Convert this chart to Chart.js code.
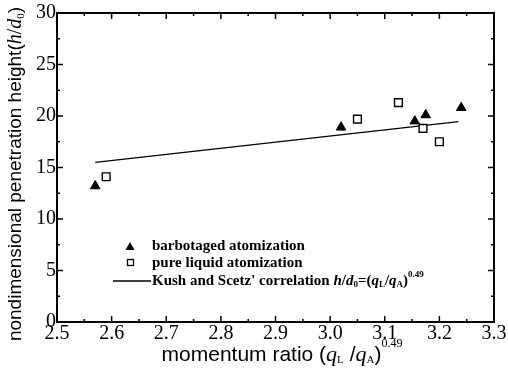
<!DOCTYPE html>
<html>
<head>
<meta charset="utf-8">
<script src="https://cdn.jsdelivr.net/npm/chart.js@4.4.1/dist/chart.umd.min.js"></script>
<style>
html, body { margin: 0; padding: 0; background: #fff; }
</style>
</head>
<body>
<canvas id="chart" width="508" height="369"></canvas>
<script>
// tick labels
const xTickLabels = ["2.5", "2.6", "2.7", "2.8", "2.9", "3.0", "3.1", "3.2", "3.3"];
const yTickLabels = ["0", "5", "10", "15", "20", "25", "30"];

// barbotaged atomization (filled triangles)
const barbX = [2.57, 3.02, 3.155, 3.175, 3.24];
const barbY = [13.2, 18.9, 19.5, 20.1, 20.8];

// pure liquid atomization (open squares)
const pureX = [2.59, 3.05, 3.125, 3.17, 3.20];
const pureY = [14.1, 19.7, 21.3, 18.8, 17.5];

// Kush and Scetz' correlation
const corrX = [2.57, 3.235];
const corrY = [15.5, 19.45];

const serif = "'Liberation Serif', 'Times New Roman', serif";
const sans = "'Liberation Sans', Arial, sans-serif";

function toPoints(xs, ys) {
    return xs.map((x, i) => ({ x: x, y: ys[i] }));
}

// draw a row of text pieces with italics / sub / superscripts
function drawRuns(ctx, x, y, runs) {
    let cx = x;
    runs.forEach(r => {
        ctx.font = (r.style || "") + " " + r.size + "px " + r.family;
        ctx.fillText(r.t, cx, y + (r.dy || 0));
        cx += ctx.measureText(r.t).width + (r.gap || 0);
    });
    return cx - x;
}

function runsWidth(ctx, runs) {
    let w = 0;
    runs.forEach(r => {
        ctx.font = (r.style || "") + " " + r.size + "px " + r.family;
        w += ctx.measureText(r.t).width + (r.gap || 0);
    });
    return w;
}

const framePlugin = {
    id: "frame",
    afterDraw(chart) {
        const ctx = chart.ctx;
        const a = chart.chartArea;
        const xs = chart.scales.x, ys = chart.scales.y;
        ctx.save();
        ctx.strokeStyle = "#000";
        ctx.fillStyle = "#000";

        // box
        ctx.lineWidth = 2;
        ctx.strokeRect(a.left, a.top, a.right - a.left, a.bottom - a.top);

        // inward ticks, major and minor, on all four sides
        ctx.lineWidth = 1.5;
        const xv = xTickLabels.map(Number);
        const yv = yTickLabels.map(Number);
        ctx.beginPath();
        xv.forEach((v, i) => {
            const px = xs.getPixelForValue(v);
            ctx.moveTo(px, a.bottom); ctx.lineTo(px, a.bottom - 6);
            ctx.moveTo(px, a.top); ctx.lineTo(px, a.top + 6);
            if (i < xv.length - 1) {
                const m = xs.getPixelForValue((v + xv[i + 1]) / 2);
                ctx.moveTo(m, a.bottom); ctx.lineTo(m, a.bottom - 3);
                ctx.moveTo(m, a.top); ctx.lineTo(m, a.top + 3);
            }
        });
        yv.forEach((v, i) => {
            const py = ys.getPixelForValue(v);
            ctx.moveTo(a.left, py); ctx.lineTo(a.left + 6, py);
            ctx.moveTo(a.right, py); ctx.lineTo(a.right - 6, py);
            if (i < yv.length - 1) {
                const m = ys.getPixelForValue((v + yv[i + 1]) / 2);
                ctx.moveTo(a.left, m); ctx.lineTo(a.left + 3, m);
                ctx.moveTo(a.right, m); ctx.lineTo(a.right - 3, m);
            }
        });
        ctx.stroke();

        // legend inside the plot
        ctx.textBaseline = "middle";
        ctx.textAlign = "left";
        const lx = 152;
        // triangle
        ctx.beginPath();
        ctx.moveTo(130, 242); ctx.lineTo(134.5, 250); ctx.lineTo(125.5, 250);
        ctx.closePath(); ctx.fill();
        drawRuns(ctx, lx, 246, [{ t: "barbotaged atomization", size: 15, family: serif, style: "bold" }]);
        // open square
        ctx.lineWidth = 1.3;
        ctx.strokeRect(127.5, 259.5, 6, 6);
        drawRuns(ctx, lx, 263, [{ t: "pure liquid atomization", size: 15, family: serif, style: "bold" }]);
        // line
        ctx.lineWidth = 1.3;
        ctx.beginPath(); ctx.moveTo(113, 281); ctx.lineTo(151, 281); ctx.stroke();
        drawRuns(ctx, lx, 281, [
            { t: "Kush and Scetz' correlation ", size: 15, family: serif, style: "bold" },
            { t: "h", size: 15, family: serif, style: "italic bold" },
            { t: "/", size: 15, family: serif, style: "bold" },
            { t: "d", size: 15, family: serif, style: "italic bold" },
            { t: "0", size: 9, family: serif, style: "bold", dy: 4 },
            { t: "=(", size: 15, family: serif, style: "bold" },
            { t: "q", size: 15, family: serif, style: "italic bold" },
            { t: "L", size: 9, family: serif, style: "bold", dy: 4 },
            { t: "/", size: 15, family: serif, style: "bold" },
            { t: "q", size: 15, family: serif, style: "italic bold" },
            { t: "A", size: 9, family: serif, style: "bold", dy: 4 },
            { t: ")", size: 15, family: serif, style: "bold" },
            { t: "0.49", size: 9, family: serif, style: "bold", dy: -6 }
        ]);

        // x axis title
        const xRuns = [
            { t: "momentum ratio (", size: 21, family: sans },
            { t: "q", size: 22, family: serif, style: "italic" },
            { t: "L", size: 11, family: serif, dy: 5 },
            { t: " /", size: 21, family: sans },
            { t: "q", size: 22, family: serif, style: "italic" },
            { t: "A", size: 11, family: serif, dy: 5 },
            { t: ")", size: 21, family: sans },
            { t: "0.49", size: 12, family: serif, dy: -11 }
        ];
        const xw = runsWidth(ctx, xRuns);
        drawRuns(ctx, 282 - xw / 2, 355, xRuns);

        // y axis title (rotated)
        const yRuns = [
            { t: "nondimensional penetration height(", size: 19, family: sans },
            { t: "h", size: 20, family: serif, style: "italic" },
            { t: "/", size: 20, family: serif },
            { t: "d", size: 20, family: serif, style: "italic" },
            { t: "0", size: 11, family: serif, dy: 5 },
            { t: ")", size: 19, family: sans }
        ];
        const yw = runsWidth(ctx, yRuns);
        ctx.translate(16, 174);
        ctx.rotate(-Math.PI / 2);
        drawRuns(ctx, -yw / 2, 0, yRuns);

        ctx.restore();
    }
};

new Chart(document.getElementById("chart"), {
    type: "scatter",
    data: {
        datasets: [
            {
                label: "barbotaged atomization",
                data: toPoints(barbX, barbY),
                pointStyle: "triangle",
                radius: 5.5,
                backgroundColor: "#000",
                borderColor: "#000",
                borderWidth: 1
            },
            {
                label: "pure liquid atomization",
                data: toPoints(pureX, pureY),
                pointStyle: "rect",
                radius: 5.5,
                backgroundColor: "#fff",
                borderColor: "#000",
                borderWidth: 1.4
            },
            {
                type: "line",
                label: "Kush and Scetz' correlation",
                data: toPoints(corrX, corrY),
                borderColor: "#000",
                borderWidth: 1.3,
                pointRadius: 0,
                fill: false
            }
        ]
    },
    options: {
        responsive: false,
        animation: false,
        devicePixelRatio: 1,
        layout: { padding: { left: 0, top: 12, right: 14, bottom: 0 } },
        plugins: {
            legend: { display: false },
            tooltip: { enabled: false }
        },
        scales: {
            x: {
                type: "linear",
                min: 2.5,
                max: 3.3,
                afterBuildTicks: s => { s.ticks = xTickLabels.map(t => ({ value: Number(t) })); },
                afterFit: s => { s.height = 47; },
                ticks: {
                    callback: (v, i) => xTickLabels[i],
                    font: { family: serif, size: 20 },
                    color: "#000",
                    padding: 0,
                    maxRotation: 0,
                    autoSkip: false
                },
                grid: { display: false, drawTicks: false },
                border: { display: false }
            },
            y: {
                type: "linear",
                min: 0,
                max: 30,
                afterBuildTicks: s => { s.ticks = yTickLabels.map(t => ({ value: Number(t) })); },
                afterFit: s => { s.width = 57; },
                ticks: {
                    callback: (v, i) => yTickLabels[i],
                    font: { family: serif, size: 20 },
                    color: "#000",
                    padding: 1,
                    autoSkip: false
                },
                grid: { display: false, drawTicks: false },
                border: { display: false }
            }
        }
    },
    plugins: [framePlugin]
});
</script>
</body>
</html>
